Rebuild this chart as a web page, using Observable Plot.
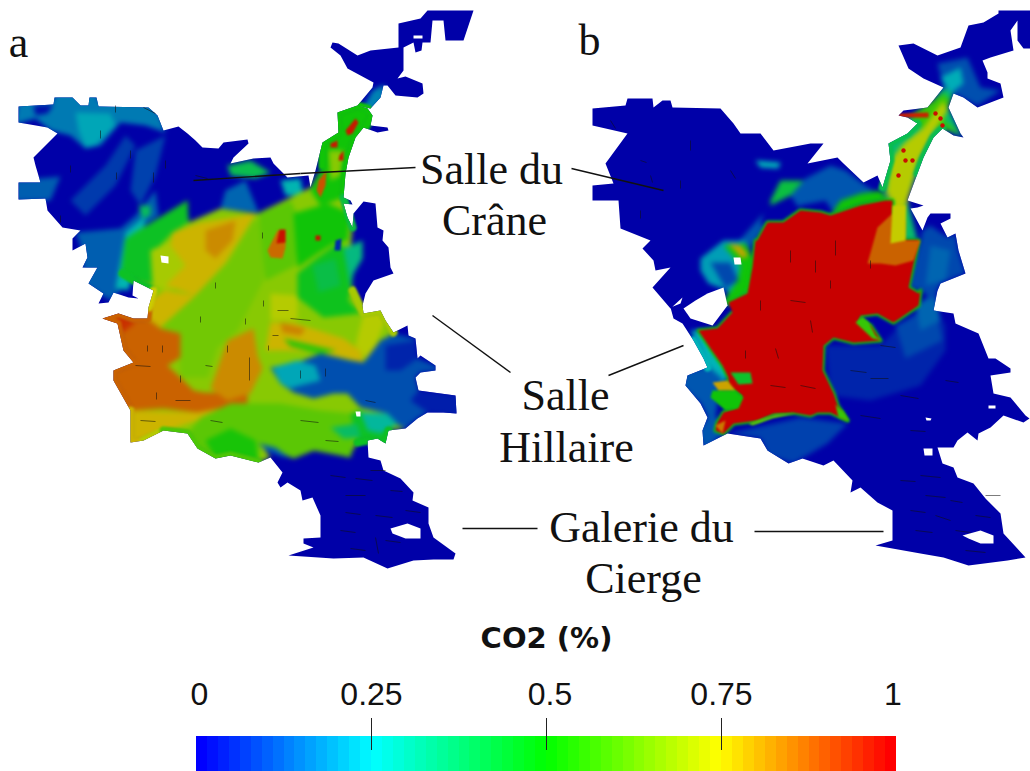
<!DOCTYPE html>
<html><head><meta charset="utf-8">
<script src="https://cdn.jsdelivr.net/npm/d3@7"></script>
<script src="https://cdn.jsdelivr.net/npm/@observablehq/plot@0.6"></script>
<style>html,body{margin:0;padding:0;background:#fff}svg{display:block}</style>
</head><body><div id="chart"></div>
<script>
// Cave outlines and CO2 zones: [co2 %, [[x,y],...]]
const outlinesMap = [
 [0,[[427,10],[473,10],[463,40],[445,40],[443,20],[432,20],[430,42],[422,42],[421,50],[415,52],[413,42],[403,47],[403,70],[394,82],[397,78],[405,76],[422,83],[423,93],[417,97],[395,95],[387,85],[383,85],[380,97],[370,108],[357,105],[372,87],[373,82],[347,68],[340,55],[330,47],[332,42],[338,43],[357,55],[370,50],[398,47],[398,23],[420,18]]],
 [0,[[18,106],[53,104],[54,97],[72,97],[80,105],[88,105],[89,97],[96,97],[98,106],[148,107],[157,115],[163,130],[178,126],[187,133],[195,140],[202,147],[218,148],[223,142],[247,139],[248,143],[233,157],[230,163],[253,158],[270,157],[273,163],[287,177],[308,175],[310,187],[315,170],[322,142],[338,132],[337,112],[357,105],[367,108],[372,115],[370,125],[387,127],[388,130],[377,132],[363,127],[355,137],[348,157],[345,173],[343,197],[350,200],[352,204],[343,203],[347,217],[352,227],[353,213],[363,201],[375,203],[377,227],[383,230],[382,240],[388,247],[390,267],[393,273],[373,280],[365,293],[362,305],[363,313],[380,310],[385,320],[393,332],[397,330],[407,325],[408,335],[415,338],[417,358],[420,355],[435,365],[435,370],[420,372],[415,377],[418,390],[455,395],[456,413],[443,412],[427,412],[417,418],[405,428],[388,430],[385,443],[377,438],[367,440],[368,457],[380,460],[383,470],[400,478],[413,492],[412,500],[428,507],[428,523],[433,537],[455,553],[453,559],[433,559],[413,560],[387,568],[363,557],[333,558],[288,555],[313,547],[303,543],[303,538],[320,537],[320,515],[312,497],[302,500],[300,490],[287,482],[280,487],[277,482],[282,472],[270,457],[258,462],[230,455],[215,458],[197,448],[187,433],[163,430],[143,440],[130,442],[130,410],[113,380],[113,370],[133,362],[123,350],[117,323],[102,318],[118,313],[133,318],[147,318],[148,307],[153,290],[133,280],[132,295],[138,298],[128,297],[113,292],[108,302],[98,303],[103,293],[88,283],[97,267],[82,267],[87,257],[85,243],[72,250],[72,238],[80,230],[62,227],[47,210],[45,198],[18,199],[18,182],[40,182],[35,165],[33,157],[57,133],[47,127],[18,122]]],
 [0,[[998,10],[1030,10],[1030,48],[1023,48],[1017,40],[1017,20],[1010,30],[1013,50],[990,57],[982,60],[987,72],[987,78],[1000,83],[1003,97],[977,107],[963,97],[953,93],[948,107],[960,133],[963,137],[953,135],[942,128],[933,137],[923,157],[917,173],[907,200],[923,205],[917,207],[910,208],[922,230],[927,217],[930,213],[950,213],[950,218],[940,223],[947,237],[955,233],[958,250],[965,273],[940,283],[933,300],[937,290],[933,310],[953,313],[955,323],[978,333],[988,358],[995,358],[1010,368],[1010,372],[990,375],[993,393],[1010,397],[1025,415],[1029,418],[1023,422],[1003,415],[990,427],[978,433],[977,440],[967,432],[957,440],[953,447],[937,447],[942,463],[953,467],[957,477],[973,483],[985,498],[1000,513],[1003,533],[1025,557],[1007,560],[968,565],[943,557],[920,553],[875,545],[892,540],[892,510],[877,502],[860,487],[850,492],[852,480],[833,460],[823,465],[802,458],[788,463],[767,450],[760,438],[727,433],[703,445],[702,430],[707,417],[700,403],[685,385],[687,375],[707,367],[703,358],[693,340],[682,323],[673,318],[670,307],[680,303],[682,297],[670,308],[652,287],[670,267],[655,270],[653,260],[642,248],[650,240],[620,228],[618,200],[592,200],[592,185],[613,183],[605,163],[627,133],[592,125],[592,108],[625,105],[627,98],[652,98],[653,107],[662,100],[670,100],[672,107],[720,108],[733,123],[740,133],[760,133],[773,150],[810,143],[823,143],[807,163],[837,157],[843,163],[863,182],[877,175],[882,187],[890,160],[888,143],[907,133],[917,123],[907,117],[898,115],[903,110],[927,107],[943,87],[923,78],[908,68],[898,45],[913,43],[937,55],[960,47],[968,25],[983,22],[998,13]]]
];
const zonesA = [
 [0.17,[[18,100],[53,100],[54,92],[96,92],[98,100],[148,102],[160,115],[165,132],[145,125],[120,122],[100,145],[85,148],[70,135],[50,130],[35,118],[14,124]]],
 [0.23,[[75,112],[110,113],[115,125],[95,145],[85,147],[78,130]]],
 [0.02,[[33,105],[53,104],[47,113],[35,115]]],
 [0.13,[[14,180],[60,176],[50,200],[14,201]]],
 [0.08,[[70,200],[105,165],[125,135],[135,145],[115,185],[85,215]]],
 [0.09,[[135,150],[165,135],[155,175],[140,205],[130,190]]],
 [0.13,[[75,232],[120,228],[135,215],[155,190],[158,215],[130,235],[125,285],[110,300],[85,285],[80,245]]],
 [0.26,[[125,232],[145,215],[140,250],[128,290],[115,288]]],
 [0.38,[[138,205],[150,205],[150,215],[142,218]]],
 [0.14,[[225,190],[245,180],[258,212],[220,208]]],
 [0.4,[[227,165],[250,160],[270,172],[255,178],[230,175]]],
 [0.26,[[280,180],[300,178],[303,195],[285,195]]],
 [0.18,[[362,108],[372,90],[384,84],[384,98],[370,112]]],
 [0.66,[[133,233],[187,200],[188,222],[220,208],[257,213],[290,197],[310,187],[322,165],[322,142],[338,132],[337,112],[357,105],[367,108],[372,115],[365,127],[355,137],[348,157],[345,173],[343,197],[352,227],[350,250],[352,290],[363,313],[380,310],[393,332],[397,345],[417,358],[415,377],[418,390],[405,428],[388,430],[385,443],[367,440],[357,442],[348,457],[333,450],[313,450],[293,458],[277,450],[260,443],[270,457],[258,462],[230,455],[215,458],[197,448],[187,433],[163,430],[143,440],[130,442],[130,410],[113,380],[113,370],[133,362],[123,350],[117,323],[102,318],[118,313],[133,318],[147,318],[148,307],[153,290],[133,280],[122,273]]],
 [0.46,[[125,238],[187,200],[188,222],[172,232],[155,250],[155,285],[133,280],[120,275]]],
 [0.7,[[150,250],[172,240],[190,265],[190,285],[165,290],[152,285]]],
 [0.78,[[172,232],[200,222],[255,213],[248,225],[225,262],[195,295],[165,285],[185,265],[170,245]]],
 [0.83,[[205,230],[235,220],[232,240],[215,258],[205,250]]],
 [0.63,[[253,220],[267,220],[263,280],[237,330],[217,347],[207,377],[180,377],[178,333],[160,327],[193,297],[227,263]]],
 [0.6,[[258,213],[290,200],[300,220],[295,265],[265,280]]],
 [0.5,[[322,142],[338,132],[337,112],[357,105],[367,108],[372,115],[365,127],[355,137],[348,157],[345,173],[343,197],[320,205],[310,190],[322,165]]],
 [0.66,[[328,150],[343,150],[340,175],[330,180]]],
 [0.5,[[293,213],[327,203],[350,213],[347,240],[333,243],[317,253],[297,267]]],
 [0.47,[[297,273],[317,257],[337,243],[360,253],[353,273],[348,300],[360,313],[323,317],[297,297]]],
 [0.41,[[312,265],[335,258],[340,285],[318,292]]],
 [0.33,[[343,248],[362,240],[362,258],[352,275],[350,288]]],
 [0.72,[[270,293],[297,295],[297,320],[270,320]]],
 [0.78,[[148,300],[165,290],[195,295],[160,327],[147,318]]],
 [0.88,[[102,317],[147,318],[160,328],[180,333],[180,357],[167,365],[180,377],[193,390],[203,392],[247,393],[247,403],[197,412],[163,408],[130,410],[113,380],[113,370],[133,362],[123,350],[117,323]]],
 [0.94,[[98,318],[118,310],[135,322],[122,332]]],
 [0.78,[[130,410],[197,412],[247,403],[167,430],[143,440],[130,442]]],
 [0.83,[[227,340],[253,328],[257,355],[262,368],[250,393],[227,400],[210,388]]],
 [0.78,[[270,322],[293,322],[343,338],[360,350],[363,362],[320,352],[287,350],[265,350]]],
 [0.84,[[280,322],[305,328],[300,335],[282,332]]],
 [0.54,[[283,338],[336,350],[320,354],[290,346]]],
 [0.72,[[363,313],[380,310],[385,320],[375,345],[367,360],[355,345]]],
 [0.6,[[193,447],[187,433],[200,417],[230,403],[260,403],[280,403],[320,410],[350,413],[357,430],[350,457],[313,450],[293,458],[277,450],[260,443],[258,462],[230,455],[215,458]]],
 [0.51,[[205,440],[230,428],[255,440],[258,462],[230,455],[215,458]]],
 [0.46,[[350,413],[360,410],[395,425],[388,430],[385,443],[367,440],[357,442]]],
 [0.37,[[330,427],[357,423],[360,437],[343,438]]],
 [0.11,[[270,367],[297,362],[320,353],[350,360],[363,362],[380,340],[393,333],[415,338],[417,358],[435,365],[440,370],[420,372],[415,377],[418,390],[460,395],[460,415],[427,412],[417,418],[405,428],[393,423],[387,413],[360,407],[347,393],[333,393],[313,398],[293,392],[280,383]]],
 [0.23,[[272,367],[297,360],[315,365],[320,380],[300,385],[290,388],[280,383]]],
 [0.05,[[385,345],[415,340],[417,358],[400,370],[385,370]]],
 [0.04,[[418,390],[460,395],[460,415],[427,412],[410,400]]],
 [0.29,[[360,412],[387,413],[397,423],[380,433],[367,430]]],
 [0.13,[[258,443],[275,447],[290,458],[278,455],[266,450]]]
];
const zonesB = [
 [0.11,[[937,63],[967,57],[980,87],[1000,90],[977,105],[953,93],[943,87]]],
 [0.24,[[940,77],[960,67],[963,83],[950,93]]],
 [0.36,[[883,187],[888,143],[907,117],[927,107],[943,87],[953,93],[948,107],[960,133],[963,137],[942,128],[933,137],[923,157],[917,173],[907,200],[917,240],[890,240],[885,200]]],
 [0.55,[[913,113],[943,93],[950,100],[943,120],[960,133],[942,128],[923,127],[913,123]]],
 [0.72,[[885,200],[890,160],[903,143],[923,127],[943,100],[947,110],[932,133],[917,163],[910,190],[905,207],[903,240],[890,240],[892,200]]],
 [0.12,[[730,250],[770,205],[805,178],[830,165],[845,170],[865,185],[880,195],[890,195],[885,200],[860,205],[835,215],[825,200],[800,205],[785,222],[767,222],[755,240],[745,255]]],
 [0,[[765,205],[790,195],[800,210],[785,222],[760,225]]],
 [0.25,[[755,160],[780,162],[778,168],[760,167]]],
 [0.42,[[770,200],[780,180],[803,180],[790,195],[770,205]]],
 [0.5,[[830,215],[840,200],[860,193],[880,190],[887,200],[860,205]]],
 [0.22,[[700,258],[723,240],[745,240],[755,290],[728,305],[727,290],[708,283],[700,270]]],
 [0.5,[[723,245],[745,243],[755,260],[750,290],[728,305],[722,302],[737,280],[740,265]]],
 [0.1,[[710,262],[730,262],[738,280],[725,288]]],
 [0.8,[[728,243],[740,245],[748,255],[742,258]]],
 [0.25,[[690,330],[698,330],[722,345],[728,375],[722,385],[705,365],[700,350]]],
 [0.12,[[680,385],[685,372],[707,365],[722,378],[715,415],[725,432],[703,450],[698,430],[707,417],[700,403]]],
 [0.09,[[727,433],[800,417],[847,423],[827,443],[793,463],[767,455],[760,438]]],
 [0.05,[[825,345],[880,345],[905,320],[930,300],[945,325],[945,350],[920,385],[870,400],[830,395]]],
 [0.1,[[895,325],[935,305],[942,340],[905,358]]],
 [0.14,[[915,305],[935,292],[940,320],[920,330]]],
 [0.1,[[922,230],[930,225],[947,237],[955,233],[958,250],[965,273],[940,283],[933,300],[920,290],[908,287],[913,263],[920,240]]],
 [0.14,[[930,245],[950,250],[945,280],[925,285]]]
];
// open runs along the cave wall, where a zone meets the white background
const wallRuns = [
 [0.88,[[130,410],[113,380],[113,370],[133,362],[123,350],[117,323],[102,318],[118,313],[133,318],[147,318],[148,307]]],
 [0.78,[[143,440],[130,442],[130,410]]],
 [0.72,[[163,430],[143,440]]],
 [0.58,[[163,430],[187,433],[197,448],[215,458],[230,455],[258,462]]],
 [0.7,[[352,290],[363,313],[380,310],[393,332]]],
 [0.46,[[122,273],[133,280],[153,290]]],
 [0.75,[[153,290],[148,307]]],
 [0.5,[[322,165],[322,142],[338,132],[337,112],[357,105],[367,108],[372,115],[365,127],[355,137],[348,157],[345,173],[343,197]]],
 [0.42,[[343,197],[352,227]]],
 [0.46,[[388,430],[385,443],[367,440],[357,442]]],
 [0.4,[[882,187],[890,160],[888,143],[907,133],[917,123]]],
 [0.4,[[917,173],[923,157],[933,137],[942,128]]],
 [0.25,[[693,340],[703,358],[707,367]]]
];
const redCoreB = [1,[[728,302],[747,293],[752,267],[755,240],[757,240],[767,222],[783,222],[800,210],[820,212],[830,215],[860,205],[885,200],[892,200],[892,220],[890,240],[918,240],[913,263],[908,287],[918,293],[920,290],[918,305],[893,322],[877,313],[860,315],[857,322],[870,325],[880,340],[853,342],[833,337],[823,345],[822,370],[833,393],[837,405],[847,420],[830,412],[817,412],[810,415],[793,412],[773,413],[757,420],[733,423],[723,433],[715,430],[717,422],[723,412],[735,408],[742,395],[728,385],[728,377],[722,365],[710,348],[698,330],[717,328],[732,312]]];
const detailsMap = [
 [0.97,[[345,130],[355,118],[358,122],[352,133],[347,135]]],
 [0.97,[[330,143],[337,140],[337,147],[330,147]]],
 [0.97,[[339,155],[343,150],[343,160],[338,160]]],
 [0.9,[[318,180],[326,170],[325,185],[320,197],[316,190]]],
 [0.87,[[277,230],[285,230],[285,247],[282,258],[270,257],[267,250]]],
 [0.98,[[279,229],[285,229],[285,242],[276,243]]],
 [0.98,[[315,235],[320,235],[320,240],[315,240]]],
 [0.06,[[335,240],[341,238],[340,250],[334,250]]],
 [0.96,[[898,113],[928,112],[928,117],[898,117]]],
 [0.88,[[877,227],[892,213],[905,220],[905,240],[920,240],[913,260],[895,265],[880,263],[867,263]]],
 [0.74,[[892,205],[905,205],[905,240],[890,243]]],
 [0.45,[[730,372],[750,372],[752,383],[738,384]]],
 [0.8,[[712,382],[727,380],[735,390],[718,390]]],
 [0.5,[[712,390],[735,390],[743,397],[738,408],[725,410],[710,397]]],
 [0.85,[[715,425],[725,420],[722,433]]],
 [0.55,[[835,404],[843,411],[849,421],[838,417]]],
 [0.55,[[855,322],[862,316],[868,321],[875,335],[881,340],[872,338]]],
 [0.6,[[748,423],[775,414],[795,413],[772,418],[752,425]]]
];
const holes = [
 [[390,528],[407,523],[420,528],[420,538],[405,538],[392,533]],
 [[160,255],[168,256],[168,263],[161,262]],
 [[355,411],[360,411],[360,416],[356,416]],
 [[413,35],[422,35],[422,38],[413,38]],
 [[962,535],[980,530],[993,535],[993,543],[980,543],[968,538]],
 [[733,257],[740,257],[741,264],[734,264]],
 [[707,293],[723,287],[727,305],[712,325],[690,318],[683,308],[695,300]],
 [[923,448],[932,448],[932,455],[924,455]],
 [[988,405],[995,405],[995,408],[988,408]],
 [[925,417],[931,418],[930,420],[926,420]]
];
const redDots = [[903,150],[905,160],[912,160],[898,175],[940,118],[942,125],[935,113]];
const specks = [[249,357,249,380],[162,345,162,352],[147,345,147,351],[227,345,227,352],[180,375,180,382],[156,392,156,399],[325,368,325,376],[116,172,116,179],[143,107,155,113],[115,105,115,112],[153,172,153,182],[195,175,207,178],[272,335,278,335],[290,318,310,320],[370,470,385,470],[355,478,372,480],[345,495,365,495],[375,515,392,517],[340,530,355,532],[375,537,378,553],[350,548,365,550],[405,510,420,512],[610,120,615,128],[640,160,646,162],[690,140,690,150],[650,175,652,182],[790,250,790,262],[815,260,815,272],[835,240,835,255],[790,300,805,302],[810,320,812,332],[775,348,778,358],[800,385,815,388],[880,345,895,347],[870,378,888,378],[900,395,918,398],[860,415,880,418],[920,475,940,477],[925,495,945,497],[935,515,950,520],[915,530,932,532],[965,550,985,552],[985,495,1000,495],[950,500,962,502],
 [262,232,262,238],[215,282,215,288],[200,316,200,322],[263,300,263,306],[245,318,245,324],[277,310,288,310],[268,345,268,350],[205,365,212,366],[135,365,150,366],[175,400,190,400],[140,420,155,421],[210,420,222,422],[300,420,318,422],[325,440,338,441],[330,475,345,477],[390,490,402,491],[345,512,360,514],[385,540,400,542],[300,370,300,378],[365,400,375,402],[100,130,100,138],[70,165,70,172],[130,150,130,158],[165,160,165,168],[60,215,60,222],[680,180,680,188],[640,210,640,218],[730,170,735,178],[760,300,760,310],[745,350,745,358],[830,280,830,288],[870,260,870,268],[770,385,785,387],[850,370,866,372],[910,430,925,431],[945,380,958,382],[900,480,915,481],[955,530,970,532],[910,510,925,512],[975,515,990,517]];
const leaders = [[193,180,300,173],[300,173,415,167],[571,168,663,190],[432,315,510,372],[608,375,683,345],[462,528,537,528],[754,531,883,531]];
const labelTexts = ["a","b","Salle du","Crâne","Salle","Hillaire","Galerie du","Cierge"];
const labelX = [18,589,491,494,565,566,641,643];
const labelY = [42,40,169,220,395,447,527,578];

const barTicks = [0,0.25,0.5,0.75,1];
const barTickLabels = ["0","0.25","0.5","0.75","1"];
const barLabelAt = [0.004,0.25,0.505,0.75,0.995];
const barSteps = d3.range(64);
const rainbow = ["#0000ff","#00ffff","#00ff00","#ffff00","#ff0000"];
const rainbowMap = ["#0000a8","#00b4b8","#10c408","#cccc00","#c80000"];

let nextId = 0;
const rows = list => list.flatMap(([co2,pts]) => { const id = nextId++; return pts.map(([x,y]) => ({id,co2,x,y})); });
const shape = (list,extra={}) => Plot.line(rows(list),{x:"x",y:"y",z:"id",fill:"co2",stroke:"none",...extra});
const serif = "'Liberation Serif','DejaVu Serif',serif";

const map = Plot.plot({
  width:1030,height:620,margin:0,
  x:{domain:[0,1030],range:[0,1030],axis:null},
  y:{domain:[0,620],range:[0,620],axis:null},
  color:{type:"linear",domain:barTicks,range:rainbowMap},
  marks:[
    shape(outlinesMap),
    shape(zonesA.concat(zonesB)),
    Plot.line(rows(wallRuns),{x:"x",y:"y",z:"id",stroke:"co2",strokeWidth:8,strokeLinejoin:"round",strokeLinecap:"round"}),
    Plot.line(rows([redCoreB]),{x:"x",y:"y",z:"id",stroke:()=>0.5,strokeWidth:4,strokeLinejoin:"round"}),
    shape([redCoreB]),
    shape(detailsMap),
    Plot.line(holes.flatMap((pts,h)=>pts.map(([x,y])=>({h,x,y}))),{x:"x",y:"y",z:"h",fill:"white",stroke:"none"}),
    Plot.dot(redDots,{x:d=>d[0],y:d=>d[1],r:2.2,fill:()=>0.98,stroke:"none"}),
    Plot.link(specks,{x1:d=>d[0],y1:d=>d[1],x2:d=>d[2],y2:d=>d[3],stroke:"#111",strokeWidth:1,strokeOpacity:0.55}),
    Plot.link(leaders,{x1:d=>d[0],y1:d=>d[1],x2:d=>d[2],y2:d=>d[3],stroke:"#111",strokeWidth:1.4}),
    Plot.text(labelTexts,{x:(d,i)=>labelX[i],y:(d,i)=>labelY[i],text:d=>d,fontFamily:serif,fontSize:44,fill:"#111",textAnchor:"middle",lineAnchor:"middle"})
  ]
});
// soften the painted zones the way the reference is soft, and keep them inside the cave outline
const lineLayers = [...map.querySelectorAll('g[aria-label="line"]')];
const clip = document.createElementNS("http://www.w3.org/2000/svg","clipPath");
clip.setAttribute("id","cave-outline");
lineLayers[0].querySelectorAll("path").forEach(p => clip.append(p.cloneNode()));
map.prepend(clip);
const blurs = [0.7,2.6,1.2,1.4,0.8,0.9,0.7];
lineLayers.forEach((g,i)=>{
  g.style.filter = `blur(${blurs[i]}px)`;
  if (i===1||i===2||i===3||i===5) g.setAttribute("clip-path","url(#cave-outline)");
});
document.getElementById("chart").append(map);

const bar = Plot.plot({
  width:1030,height:151,marginTop:98,marginBottom:0,marginLeft:196,marginRight:134,
  x:{domain:[0,1],axis:null},
  y:{axis:null},
  color:{type:"linear",domain:barTicks,range:rainbow},
  marks:[
    Plot.barX(barSteps,{x1:d=>d/64,x2:d=>(d+1)/64,fill:d=>d/63,insetTop:18,shapeRendering:"crispEdges"}),
    Plot.tickX(barTicks.slice(1,4),{x:d=>d,stroke:"#222",strokeWidth:1,insetBottom:21}),
    Plot.text(barTickLabels,{x:(d,i)=>barLabelAt[i],text:d=>d,frameAnchor:"top",dy:-24,fontFamily:"'Liberation Sans',Arial,sans-serif",fontSize:32,fill:"#111",lineAnchor:"middle"}),
    Plot.text(["CO2 (%)"],{x:()=>0.5,text:d=>d,frameAnchor:"top",dy:-80,fontFamily:"'DejaVu Sans',sans-serif",fontWeight:"bold",fontSize:29,fill:"#111",lineAnchor:"middle"})
  ]
});
document.getElementById("chart").append(bar);
</script></body></html>
